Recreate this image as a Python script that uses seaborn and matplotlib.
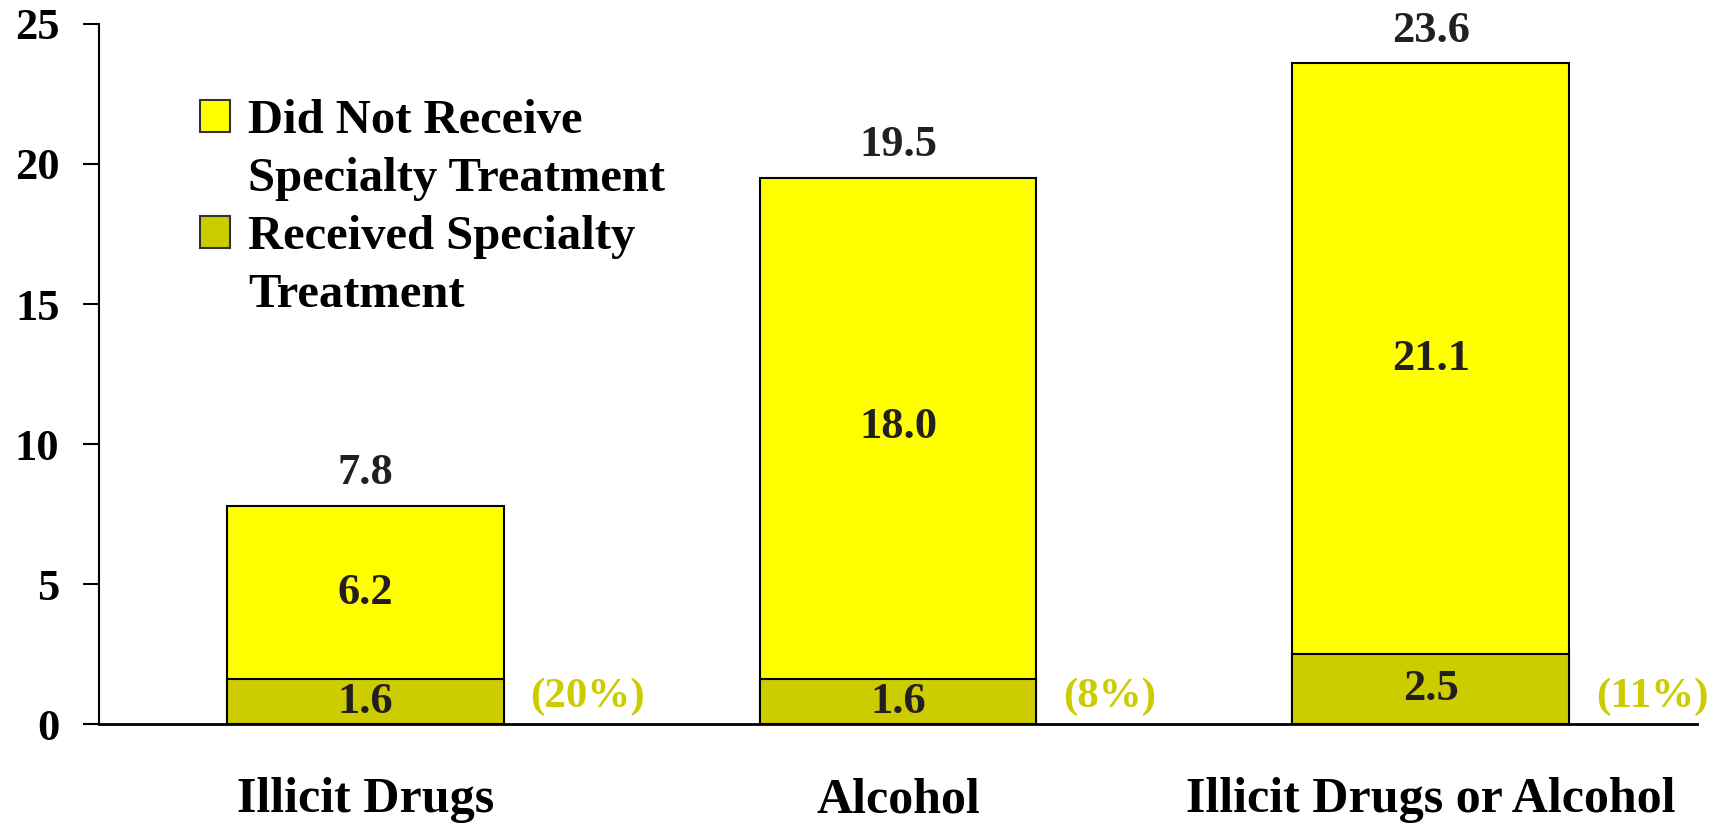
import matplotlib
matplotlib.use("Agg")
import matplotlib.pyplot as plt
import seaborn as sns
import pandas as pd
from matplotlib.patches import Rectangle

categories = ["Illicit Drugs", "Alcohol", "Illicit Drugs or Alcohol"]
received = [1.6, 1.6, 2.5]
not_received = [6.2, 18.0, 21.1]
totals = [7.8, 19.5, 23.6]
percent_labels = ["(20%)", "(8%)", "(11%)"]
series_names = ["Did Not Receive\nSpecialty Treatment", "Received Specialty\nTreatment"]
y_ticks = [0, 5, 10, 15, 20, 25]

YELLOW = "#FFFF00"
OLIVE = "#CCCC00"
TXT = "#231F20"

sns.set_theme(style="white")
plt.rcParams["font.family"] = ["Liberation Serif", "DejaVu Serif"]
plt.rcParams["font.weight"] = "bold"

df = pd.DataFrame({"category": categories, "received": received,
                   "not_received": not_received, "total": totals})

fig = plt.figure(figsize=(17.19, 8.24), dpi=100)
ax = fig.add_axes([0.0576, 0.121, 0.9296, 0.850])

sns.barplot(data=df, x="category", y="total", color=YELLOW, saturation=1,
            edgecolor="black", linewidth=1.5, width=0.52, ax=ax)
sns.barplot(data=df, x="category", y="received", color=OLIVE, saturation=1,
            edgecolor="black", linewidth=1.5, width=0.52, ax=ax)

ax.set_xlim(-0.5, 2.5)
ax.set_ylim(0, 25)
ax.set_yticks(y_ticks)
ax.set_yticklabels([str(t) for t in y_ticks], fontsize=32, fontweight="bold", color="black")
ax.set_xticks(range(len(categories)))
ax.set_xticklabels(categories, fontsize=36, fontweight="bold", color="black")
ax.set_xlabel("")
ax.set_ylabel("")
ax.tick_params(axis="y", length=11.5, width=1.5, color="black", pad=17, left=True, direction="out")
ax.tick_params(axis="x", length=0, pad=38)

for s in ["top", "right"]:
    ax.spines[s].set_visible(False)
ax.spines["left"].set_color("black")
ax.spines["left"].set_linewidth(1.5)
ax.spines["bottom"].set_color("black")
ax.spines["bottom"].set_linewidth(2)
ax.grid(False)

for i, (r, n, t, p) in enumerate(zip(received, not_received, totals, percent_labels)):
    ax.text(i, t + 0.45, f"{t:.1f}", ha="center", va="bottom", fontsize=32,
            fontweight="bold", color=TXT)
    ax.text(i, r + n / 2, f"{n:.1f}", ha="center", va="center", fontsize=32,
            fontweight="bold", color=TXT)
    ax.text(i, r / 2, f"{r:.1f}", ha="center", va="center", fontsize=32,
            fontweight="bold", color=TXT)
    ax.text(i + 0.26 + 0.05, 1.0, p, ha="left", va="center", fontsize=31,
            fontweight="bold", color=OLIVE)

# legend: each entry spans two lines; handle aligned with the first line
h1 = Rectangle((0, 0), 1, 1, facecolor=YELLOW, edgecolor="#333333", linewidth=1.5)
h2 = Rectangle((0, 0), 1, 1, facecolor=OLIVE, edgecolor="#333333", linewidth=1.5)
blank = Rectangle((0, 0), 1, 1, facecolor="none", edgecolor="none")
l1a, l1b = series_names[0].split("\n")
l2a, l2b = series_names[1].split("\n")
leg = ax.legend([h1, blank, h2, blank], [l1a, l1b, l2a, l2b],
                loc="upper left", bbox_to_anchor=(0.063, 0.893),
                frameon=False, borderpad=0, borderaxespad=0,
                handlelength=0.62, handleheight=0.64, handletextpad=0.37,
                labelspacing=0.29,
                prop={"family": "Liberation Serif", "weight": "bold", "size": 35})
for txt in leg.get_texts():
    txt.set_color("black")

fig.savefig("out.png", dpi=100, facecolor="white")
